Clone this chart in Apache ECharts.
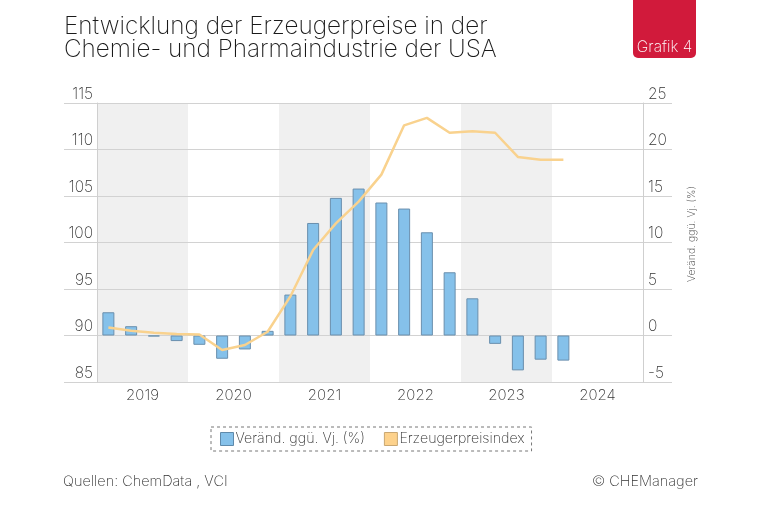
<!DOCTYPE html>
<html>
<head>
<meta charset="utf-8">
<script src="https://cdn.jsdelivr.net/npm/echarts@6/dist/echarts.min.js"></script>
<style>
html,body{margin:0;padding:0;background:#fff;}
#c{width:760px;height:506px;}
</style>
</head>
<body>
<div id="c"></div>
<script>
var quarters = ['2019Q1','2019Q2','2019Q3','2019Q4','2020Q1','2020Q2','2020Q3','2020Q4',
  '2021Q1','2021Q2','2021Q3','2021Q4','2022Q1','2022Q2','2022Q3','2022Q4',
  '2023Q1','2023Q2','2023Q3','2023Q4','2024Q1','2024Q2','2024Q3','2024Q4'];
var years = ['2019','2020','2021','2022','2023','2024'];
var changePct = [2.5, 1.0, -0.1, -0.6, -1.0, -2.5, -1.5, 0.5,
  4.4, 12.1, 14.8, 15.8, 14.3, 13.65, 11.1, 6.8,
  4.0, -0.9, -3.75, -2.6, -2.7];
var priceIndex = [90.85, 90.5, 90.3, 90.15, 90.1, 88.45, 88.98, 90.4,
  94.2, 99.2, 102.05, 104.4, 107.3, 112.6, 113.4, 111.8,
  111.95, 111.8, 109.2, 108.9, 108.9];
var seriesNames = ['Veränd. ggü. Vj. (%)', 'Erzeugerpreisindex'];
var rightAxisName = 'Veränd. ggü. Vj. (%)';
var titleLine1 = 'Entwicklung der Erzeugerpreise in der';
var titleLine2 = 'Chemie- und Pharmaindustrie der USA';
var badgeText = 'Grafik 4';
var sourceText = 'Quellen: ChemData , VCI';
var copyrightText = '© CHEManager';

var FONT = 'Inter';
var W = 250;
var WT = 200;
var chart = echarts.init(document.getElementById('c'), null, {renderer: 'canvas'});
var option = {
  backgroundColor: '#fff',
  textStyle: {fontFamily: FONT},
  animation: false,
  grid: [
    {left: 64, right: 88, top: 103, bottom: 124},
    {left: 97, right: 117, top: 103, bottom: 124}
  ],
  xAxis: [
    {gridIndex: 0, type: 'value', min: 0, max: 1, show: false},
    {gridIndex: 1, type: 'category', data: quarters, show: false, boundaryGap: true, position: 'bottom'},
    {gridIndex: 1, type: 'category', data: years, z: 0, boundaryGap: true, position: 'bottom',
      axisLine: {show: false}, axisTick: {show: false},
      axisLabel: {fontFamily: FONT, fontWeight: W, fontSize: 15, color: '#333', margin: 6},
      splitLine: {show: false},
      splitArea: {show: true, areaStyle: {color: ['#f0f0f0', 'rgba(255,255,255,0)']}}
    }
  ],
  yAxis: [
    {gridIndex: 0, type: 'value', min: 85, max: 115, interval: 5, z: 1,
      axisLine: {show: false}, axisTick: {show: false}, axisLabel: {show: false},
      splitLine: {show: true, lineStyle: {color: '#d2d2d2', width: 1}}},
    {gridIndex: 1, type: 'value', position: 'left', min: 85, max: 115, interval: 5, z: 1,
      axisLine: {show: true, lineStyle: {color: '#cfcfcf'}}, axisTick: {show: false},
      splitLine: {show: false},
      axisLabel: {fontFamily: FONT, fontWeight: W, fontSize: 15.5, color: '#333', margin: 4,
        verticalAlign: 'bottom', padding: [0, 0, 1, 0]}},
    {gridIndex: 1, type: 'value', position: 'right', min: -5, max: 25, interval: 5, z: 1,
      axisLine: {show: true, lineStyle: {color: '#cfcfcf'}}, axisTick: {show: false},
      splitLine: {show: false},
      axisLabel: {fontFamily: FONT, fontWeight: W, fontSize: 15.5, color: '#333', margin: 5,
        verticalAlign: 'bottom', padding: [0, 0, 1, 0]}}
  ],
  legend: {
    left: 211, top: 427,
    padding: [5, 7, 5, 9],
    itemGap: 19, itemWidth: 13, itemHeight: 13,
    borderColor: '#777', borderWidth: 1, borderType: [3, 3],
    icon: 'rect',
    textStyle: {fontFamily: FONT, fontWeight: W, fontSize: 14.2, color: '#333', padding: [0, 0, 0, -3]},
    data: [
      {name: seriesNames[0], itemStyle: {color: '#85c1ea', borderColor: '#5f8aab', borderWidth: 1}},
      {name: seriesNames[1], itemStyle: {color: '#fdd28c', borderColor: '#c9a772', borderWidth: 1}}
    ]
  },
  series: [
    {name: seriesNames[0], type: 'bar', xAxisIndex: 1, yAxisIndex: 2, data: changePct,
      barWidth: 12, z: 2,
      itemStyle: {color: '#85c1ea', borderColor: '#6a8fad', borderWidth: 1}},
    {name: seriesNames[1], type: 'line', xAxisIndex: 1, yAxisIndex: 1, data: priceIndex,
      symbol: 'none', z: 3, smooth: false,
      lineStyle: {color: '#f9d28e', width: 2.5}}
  ],
  graphic: [
    {type: 'text', x: 64, y: 15, style: {text: titleLine1, fontFamily: FONT, fontWeight: WT,
      fontSize: 24.3, fill: '#1a1a1a', verticalAlign: 'top'}},
    {type: 'text', x: 64, y: 38, style: {text: titleLine2, fontFamily: FONT, fontWeight: WT,
      fontSize: 24.3, fill: '#1a1a1a', verticalAlign: 'top'}},
    {type: 'rect', shape: {x: 633, y: -6, width: 63, height: 64, r: 5}, style: {fill: '#d11a3b'}},
    {type: 'text', x: 664.5, y: 47, style: {text: badgeText, fontFamily: FONT, fontWeight: W,
      fontSize: 15.5, fill: '#fff', align: 'center', verticalAlign: 'middle'}},
    {type: 'text', x: 692, y: 234, rotation: Math.PI / 2, style: {text: rightAxisName, fontFamily: FONT,
      fontWeight: W, fontSize: 10.5, fill: '#444', align: 'center', verticalAlign: 'middle'}},
    {type: 'text', x: 63, y: 482, style: {text: sourceText, fontFamily: FONT, fontWeight: W,
      fontSize: 14.5, fill: '#333', verticalAlign: 'middle'}},
    {type: 'text', x: 698, y: 482, style: {text: copyrightText, fontFamily: FONT, fontWeight: W,
      fontSize: 14.5, fill: '#333', align: 'right', verticalAlign: 'middle'}}
  ]
};
chart.setOption(option);
</script>
</body>
</html>
